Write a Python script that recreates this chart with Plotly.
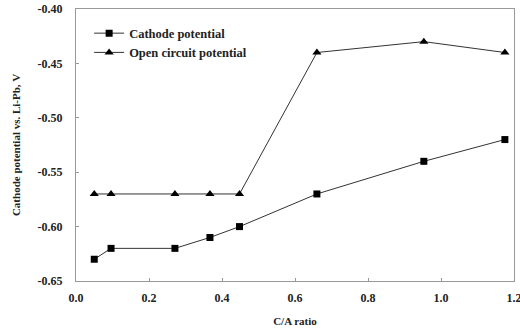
import plotly.graph_objects as go

ca_ratio = [0.05, 0.096, 0.271, 0.367, 0.448, 0.66, 0.953, 1.175]
cathode_potential = [-0.63, -0.62, -0.62, -0.61, -0.60, -0.57, -0.54, -0.52]
open_circuit_potential = [-0.57, -0.57, -0.57, -0.57, -0.57, -0.44, -0.43, -0.44]

x_ticks = [0.0, 0.2, 0.4, 0.6, 0.8, 1.0, 1.2]
x_tick_labels = ["0.0", "0.2", "0.4", "0.6", "0.8", "1.0", "1.2"]
y_ticks = [-0.65, -0.60, -0.55, -0.50, -0.45, -0.40]
y_tick_labels = ["-0.65", "-0.60", "-0.55", "-0.50", "-0.45", "-0.40"]

font_family = "Liberation Serif, Times New Roman, serif"

fig = go.Figure()
fig.add_trace(go.Scatter(
    x=ca_ratio, y=cathode_potential, mode="lines+markers",
    name="<b>Cathode potential</b>",
    line=dict(color="#333333", width=1),
    marker=dict(symbol="square", size=7, color="black"),
))
fig.add_trace(go.Scatter(
    x=ca_ratio, y=open_circuit_potential, mode="lines+markers",
    name="<b>Open circuit potential</b>",
    line=dict(color="#333333", width=1),
    marker=dict(symbol="triangle-up", size=8, color="black"),
))

fig.update_layout(
    width=520, height=329,
    margin=dict(l=76, r=6, t=9, b=48),
    paper_bgcolor="white", plot_bgcolor="white",
    font=dict(family=font_family, size=12, color="#222222"),
    showlegend=True,
    legend=dict(x=0.03, y=0.965, xanchor="left", yanchor="top",
                bgcolor="rgba(0,0,0,0)", font=dict(size=12.5, family=font_family),
                itemwidth=30, tracegroupgap=0),
    xaxis=dict(
        range=[0, 1.2], tickvals=x_ticks, ticktext=["<b>%s</b>" % t for t in x_tick_labels],
        showgrid=False, zeroline=False, showline=True, linecolor="#999999", linewidth=1,
        mirror=True, ticks="inside", ticklen=3, tickcolor="#999999",
        tickfont=dict(size=12, family=font_family), ticklabelstandoff=6,
        ticklabeloverflow="allow", automargin=False,
        title=dict(text="<b>C/A ratio</b>", font=dict(size=11, family=font_family), standoff=12),
    ),
    yaxis=dict(
        range=[-0.65, -0.40], tickvals=y_ticks, ticktext=["<b>%s</b>" % t for t in y_tick_labels],
        showgrid=False, zeroline=False, showline=True, linecolor="#999999", linewidth=1,
        mirror=True, ticks="inside", ticklen=3, tickcolor="#999999",
        tickfont=dict(size=12, family=font_family), ticklabelstandoff=10,
        automargin=False,
        title=dict(text="<b>Cathode potential vs. Li-Pb, V</b>", font=dict(size=11, family=font_family), standoff=14),
    ),
)

fig.write_html("out.html")
